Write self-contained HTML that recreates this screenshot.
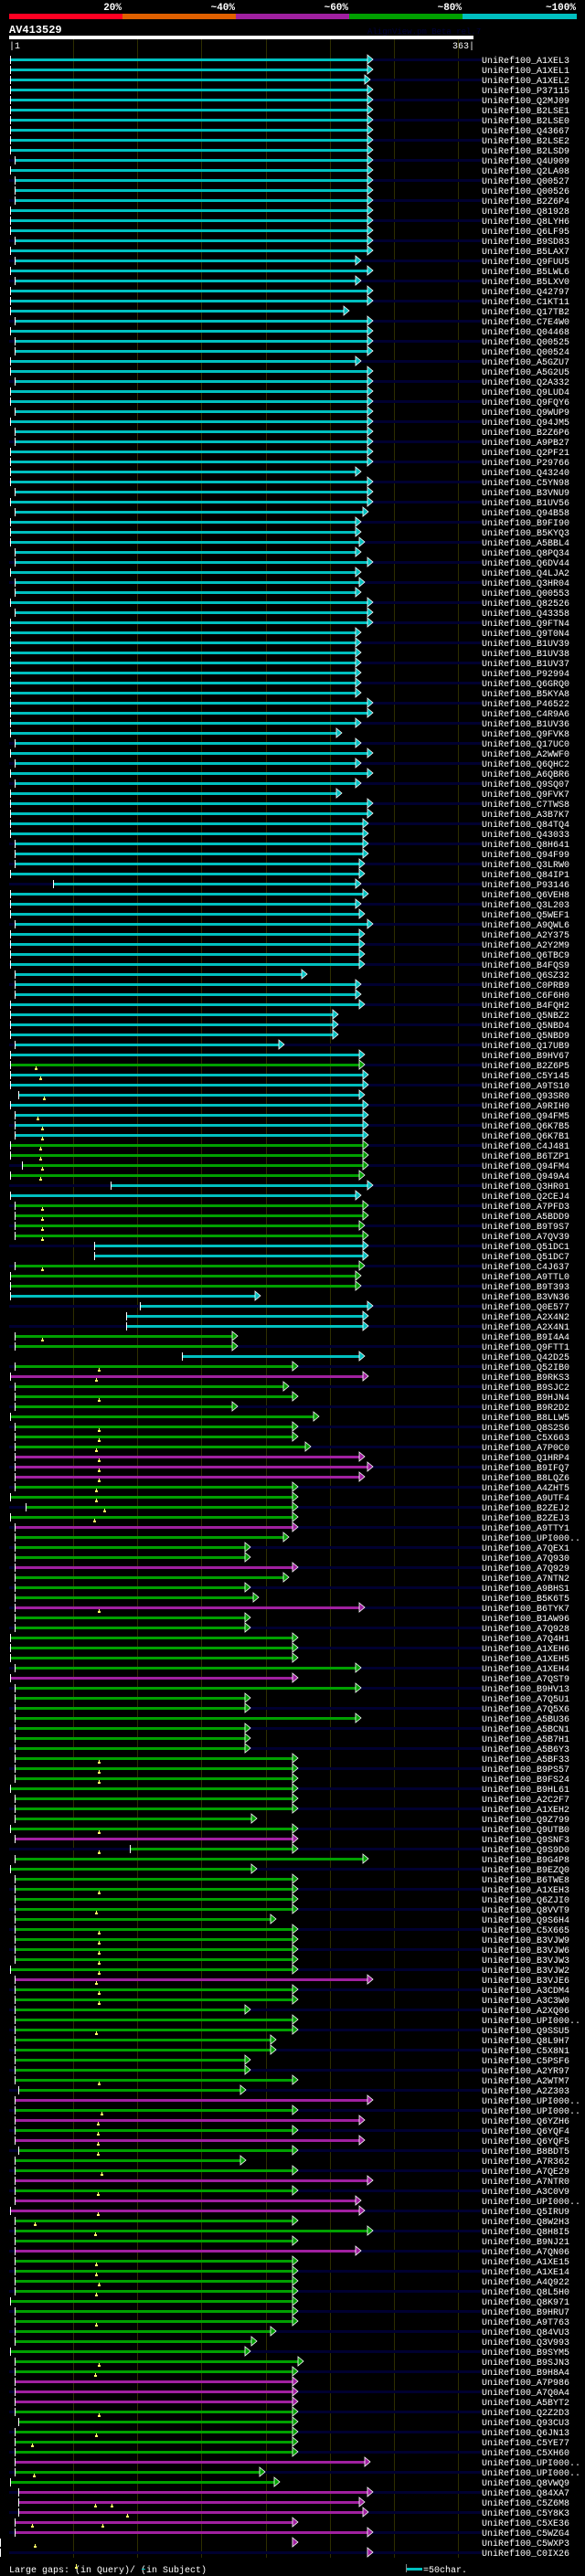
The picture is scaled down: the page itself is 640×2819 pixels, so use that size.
<!DOCTYPE html>
<html><head><meta charset="utf-8"><title>AV413529 alignment</title>
<style>
html,body{margin:0;padding:0;background:#000;}
svg{display:block;}
text{font-family:"Liberation Mono","DejaVu Sans Mono",monospace;}
</style></head>
<body>
<svg id="chart" width="640" height="2819" viewBox="0 0 640 2819" xmlns="http://www.w3.org/2000/svg">
<rect x="0" y="0" width="640" height="2819" fill="#000"/>
<g id="header">
 <rect x="10" y="15" width="124" height="6" fill="#ff0022"/>
 <rect x="134" y="15" width="124" height="6" fill="#e06000"/>
 <rect x="258" y="15" width="124" height="6" fill="#a020a0"/>
 <rect x="382" y="15" width="124" height="6" fill="#00a000"/>
 <rect x="506" y="15" width="125" height="6" fill="#00c0c0"/>
 <text x="133" y="11" fill="#fff" font-size="11" font-weight="bold" text-anchor="end">20%</text>
 <text x="257" y="11" fill="#fff" font-size="11" font-weight="bold" text-anchor="end">~40%</text>
 <text x="381" y="11" fill="#fff" font-size="11" font-weight="bold" text-anchor="end">~60%</text>
 <text x="505" y="11" fill="#fff" font-size="11" font-weight="bold" text-anchor="end">~80%</text>
 <text x="630" y="11" fill="#fff" font-size="11" font-weight="bold" text-anchor="end">~100%</text>
</g>
<text x="10" y="36" fill="#fff" font-size="12" font-weight="bold">AV413529</text>
<text x="402" y="37" fill="#00003a" font-size="9">AlignView.pm Beta rel.7</text>
<rect x="10" y="39" width="508" height="4" fill="#fff"/>
<text x="10" y="53" fill="#fff" font-size="10">|1</text>
<text x="519" y="53" fill="#fff" font-size="10" text-anchor="end">363|</text>
<g id="grid"></g>
<g id="rows"></g>
<g id="footer">
 <text x="10" y="2815" fill="#fff" font-size="10">Large gaps:   (in Query)/  (in Subject)</text>
 <rect x="82" y="2809" width="3" height="2" fill="#ffff66"/>
 <rect x="83" y="2806" width="1" height="3" fill="#ffff66"/>
 <rect x="155" y="2811" width="4" height="1" fill="#00c0c0"/>
 <rect x="445" y="2810" width="17" height="3" fill="#00c0c0"/>
 <rect x="444" y="2806" width="1" height="9" fill="#888"/>
 <text x="463" y="2815" fill="#fff" font-size="10">=50char.</text>
</g>
</svg>
<script>
const names = ["A1XEL3","A1XEL1","A1XEL2","P37115","Q2MJ09","B2LSE1","B2LSE0","Q43667","B2LSE2","B2LSD9",
"Q4U909","Q2LA08","Q00527","Q00526","B2Z6P4","Q81928","Q8LYH6","Q6LF95","B9SD83","B5LAX7",
"Q9FUU5","B5LWL6","B5LXV0","Q42797","C1KT11","Q17TB2","C7E4W0","Q04468","Q00525","Q00524",
"A5GZU7","A5G2U5","Q2A332","Q9LUD4","Q9FQY6","Q9WUP9","Q94JM5","B2Z6P6","A9PB27","Q2PF21",
"P29766","Q43240","C5YN98","B3VNU9","B1UV56","Q94B58","B9FI90","B5KYQ3","A5BBL4","Q8PQ34",
"Q6DV44","Q4LJA2","Q3HR04","Q00553","Q82526","Q43358","Q9FTN4","Q9T0N4","B1UV39","B1UV38",
"B1UV37","P92994","Q6GRQ0","B5KYA8","P46522","C4R9A6","B1UV36","Q9FVK8","Q17UC0","A2WWF0",
"Q6QHC2","A6QBR6","Q9SQ07","Q9FVK7","C7TWS8","A3B7K7","Q84TQ4","Q43033","Q8H641","Q94F99",
"Q3LRW0","Q84IP1","P93146","Q6VEH8","Q3L203","Q5WEF1","A9QWL6","A2Y375","A2Y2M9","Q6TBC9",
"B4FQS9","Q6SZ32","C0PRB9","C6F6H0","B4FQH2","Q5NBZ2","Q5NBD4","Q5NBD9","Q17UB9","B9HV67",
"B2Z6P5","C5Y145","A9TS10","Q93SR0","A9RIH0","Q94FM5","Q6K7B5","Q6K7B1","C4J481","B6TZP1",
"Q94FM4","Q949A4","Q3HR01","Q2CEJ4","A7PFD3","A5BDD9","B9T9S7","A7QV39","Q51DC1","Q51DC7",
"C4J637","A9TTL0","B9T393","B3VN36","Q0E577","A2X4N2","A2X4N1","B9I4A4","Q9FTT1","Q42D25",
"Q52IB0","B9RKS3","B9SJC2","B9HJN4","B9R2D2","B8LLW5","Q8S2S6","C5X663","A7P0C0","Q1HRP4",
"B9IFQ7","B8LQZ6","A4ZHT5","A9UTF4","B2ZEJ2","B2ZEJ3","A9TTY1","UPI000..","A7QEX1","A7Q930",
"A7Q929","A7NTN2","A9BHS1","B5K6T5","B6TYK7","B1AW96","A7Q928","A7Q4H1","A1XEH6","A1XEH5",
"A1XEH4","A7QST9","B9HV13","A7Q5U1","A7Q5X6","A5BU36","A5BCN1","A5B7H1","A5B6Y3","A5BF33",
"B9PS57","B9FS24","B9HL61","A2C2F7","A1XEH2","Q9Z799","Q9UTB0","Q9SNF3","Q9S9D0","B9G4P8",
"B9EZQ0","B6TWE8","A1XEH3","Q6ZJI0","Q8VVT9","Q9S6H4","C5X665","B3VJW9","B3VJW6","B3VJW3",
"B3VJW2","B3VJE6","A3CDM4","A3C3W0","A2XQ06","UPI000..","Q9SSU5","Q8L9H7","C5X8N1","C5PSF6",
"A2YR97","A2WTM7","A2Z303","UPI000..","UPI000..","Q6YZH6","Q6YQF4","Q6YQF5","B8BDT5","A7R362",
"A7QE29","A7NTR0","A3C0V9","UPI000..","Q5IRU9","Q8W2H3","Q8H8I5","B9NJ21","A7QN06","A1XE15",
"A1XE14","A4Q922","Q8L5H0","Q8K971","B9HRU7","A9T763","Q84VU3","Q3V993","B9SYM5","B9SJN3",
"B9H8A4","A7P986","A7Q0A4","A5BYT2","Q2Z2D3","Q93CU3","Q6JN13","C5YE77","C5XH60","UPI000..",
"UPI000..","Q8VWQ9","Q84XA7","C5Z6M8","C5Y8K3","C5XE36","C5WZG4","C5WXP3","C0IX26"];
const identity =
 "cccccccccccccccccccccccccccccccccccccccccccccccccccccccccccccccccccccccccccccccccccccccccccccccccccc" + // 0-99
 "g" + "ccccccc" + "gggg" + "cc" + "gggg" + "cc" + "ggg" +            // 100-122
 "ccccggcgm" + "ggggggg" + "mmm" + "gggg" + "m" + "ggg" + "m" + "ggg" + "m" + "gggggg" + "m" + "g" + // 123-162
 "gggggggggggggg" + "m" + "ggggggggggggg" + "m" + "ggggggggggg" + "m" + "g" + "m" + "g" + "m" + "ggg" + "m" + "g" + "mm" + "ggg" + "m" + // 163-218
 "gggggggggggg" + "mmm" + "ggggg" + "m" + "gg" + "mmmmmmm";          // 219-248
const starts = [2,2,2,2,2,2,2,2,2,2,5,2,5,5,5,2,2,2,5,2,5,2,5,2,2,2,5,2,5,5,2,
2,5,2,2,5,2,5,5,2,2,2,2,5,2,5,2,2,2,5,5,2,5,5,2,5,
2,2,2,2,2,2,2,2,2,2,2,2,5,2,5,2,5,2,2,2,2,2,5,5,5,2,35,2,2,2,5,2,2,2,2,5,5,5,2,2,2,2,5,2,
2,2,2,8,2,5,5,5,2,2,11,2,80,2,5,5,5,5,67,67,5,2,2,
2,103,92,92,5,5,136,5,2,5,5,5,2,5,5,5,5,5,5,5,2,14,2,5,5,
5,5,5,5,5,5,5,5,5,2,2,2,5,2,5,5,5,5,5,5,5,5,5,5,2,
5,5,5,2,5,95,5,2,5,5,5,5,5,5,5,5,5,2,5,5,5,5,5,5,
5,5,5,5,5,8,5,5,5,5,5,8,5,5,5,5,5,2,5,5,5,5,5,5,5,5,
2,5,5,5,5,2,5,5,5,5,5,5,8,5,5,
5,5,5,2,8,8,8,5,5];
const ends = [280,280,278,280,280,280,280,280,280,280,280,280,280,280,280,280,280,280,280,280,271,280,271,280,280,262,280,280,280,280,271,
280,280,280,280,280,280,280,280,280,280,271,280,280,280,277,271,271,274,271,280,271,274,271,280,280,
280,271,271,271,271,271,271,271,280,280,271,256,271,280,271,280,271,256,280,280,277,277,277,277,274,274,271,277,271,274,280,274,274,274,274,229,271,271,274,253,253,253,211,274,
274,277,277,274,277,277,277,277,277,277,277,274,280,271,277,277,274,277,277,277,274,271,271,
193,280,277,277,175,175,274,222,277,215,222,175,238,222,222,232,274,280,274,222,222,222,222,222,215,
185,185,222,215,185,191,274,185,185,222,222,222,271,222,271,185,185,271,185,185,185,222,222,222,222,222,
222,190,222,222,222,277,190,222,222,222,222,205,222,222,222,222,222,280,222,222,185,222,222,205,
205,185,185,222,181,280,222,274,222,274,222,181,222,280,222,271,274,222,280,222,271,222,222,222,222,222,
222,222,205,190,185,226,222,222,222,222,222,222,222,222,222,278,
196,208,280,274,277,222,280,222,280];
const queryGaps = {100:[22],101:[25],103:[28],105:[23],106:[27],107:[27],108:[25],109:[25],110:[27],111:[25],
114:[27],115:[27],116:[27],117:[27],120:[27],127:[27],130:[71],131:[69],133:[71],136:[71],137:[71],138:[69],
139:[71],140:[71],141:[71],142:[69],143:[69],144:[75],145:[67],154:[71],169:[71],170:[71],171:[71],176:[71],
178:[71],182:[71],184:[69],186:[71],187:[71],188:[71],189:[71],190:[71],191:[69],192:[71],193:[71],196:[69],
201:[71],204:[73],205:[70],206:[70],207:[70],208:[70],210:[73],212:[70],214:[70],215:[21],216:[68],219:[69],
220:[69],221:[71],222:[69],225:[69],229:[71],230:[68],234:[71],236:[69],237:[19],240:[20],243:[68,81],244:[93],
245:[19,74],247:[21]};
const palette = {c:"#00c0c0", g:"#00a000", m:"#a020a0"};
const gridTicks = [51,101,151,201,251,301,351];
const queryLen = 363;

const NS = "http://www.w3.org/2000/svg";
function xScale(q){ return 10 + (q-1)*(508/(queryLen-1)); }
function yRow(i){ return 65 + i*11; }
function mk(tag, attrs, parent){
  const e = document.createElementNS(NS, tag);
  for (const k in attrs) e.setAttribute(k, attrs[k]);
  parent.appendChild(e);
  return e;
}
const gGrid = document.getElementById('grid');
const gRows = document.getElementById('rows');
const n = names.length;
for (let i=0;i<n;i+=2){
  const s = mk('rect',{x:10,y:yRow(i)-1,width:517,height:3,fill:'#000030'},gRows);
  
  
}
for (const t of gridTicks){
  const l = mk('rect',{x:Math.round(xScale(t)),y:43,width:1,height:2756,fill:'#2e2e00'},gGrid);
  
  
}
for (let i=0;i<n;i++){
  const y = yRow(i);
  const col = palette[identity[i]] || palette.g;
  const x0 = Math.round(xScale(starts[i])), x1 = Math.round(xScale(ends[i]));
  const g = mk('g',{},gRows);
  
  
  const bar = mk('rect',{x:x0,y:y-1,width:x1-x0,height:3,fill:col},g);
  
  
  const st = mk('rect',{x:x0,y:y-4,width:1,height:9,fill:'#fff'},g);
  
  
  const ar = mk('polygon',{points:`${x1},${y-5} ${x1+6},${y} ${x1},${y+5}`,fill:col,stroke:'#fff','stroke-width':0.8},g);
  
  
  const gaps = queryGaps[i] || [];
  for (const q of gaps){
    const gx = Math.round(xScale(q));
    const m1 = mk('rect',{x:gx-1,y:y+4,width:3,height:2,fill:'#ffff66'},g);
    
    
    const m2 = mk('rect',{x:gx,y:y+2,width:1,height:2,fill:'#ffff66'},g);
    
    
  }
  const t = mk('text',{x:527,y:y+4,fill:'#fff','font-size':10},g);
  t.textContent = 'UniRef100_' + names[i];
  
  
}
</script>
</body></html>
